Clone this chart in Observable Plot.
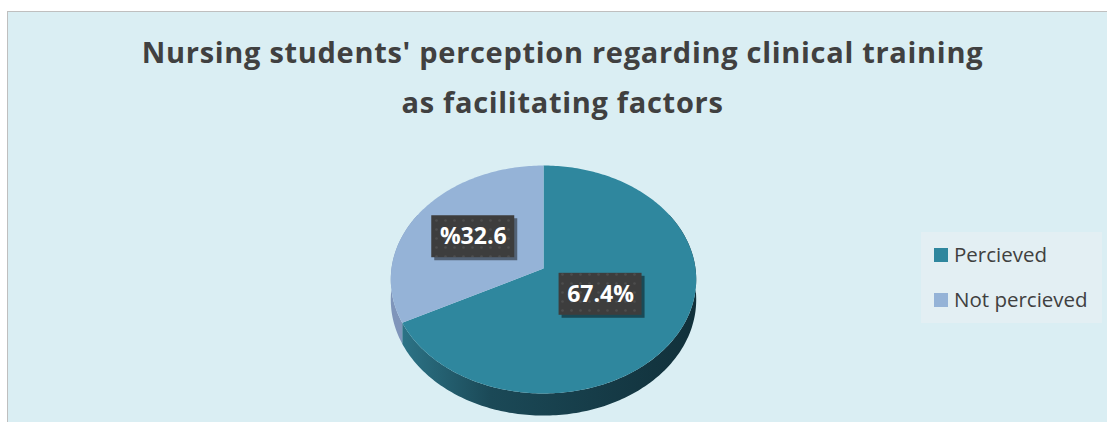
<!DOCTYPE html>
<html><head><meta charset="utf-8">
<script src="https://cdn.jsdelivr.net/npm/d3@7"></script>
<script src="https://cdn.jsdelivr.net/npm/@observablehq/plot@0.6"></script>
<style>
html,body{margin:0;padding:0;background:#fff;overflow:hidden;width:1107px;height:422px;}
#frame{position:absolute;left:7px;top:11px;width:1120px;height:430px;background:#daeef3;border:1px solid #bfbfbf;box-sizing:border-box;}
#title{position:absolute;left:0;top:27px;width:1125px;text-align:center;font-family:"Open Sans",sans-serif;font-weight:bold;font-size:29px;letter-spacing:0.7px;line-height:50px;color:#404040;}
#chart{position:absolute;left:0;top:0;}
#legend{position:absolute;left:921px;top:232px;width:181px;height:91px;background:#e3eff3;}
.item{position:absolute;left:0;height:30px;line-height:30px;font-family:"Open Sans",sans-serif;font-size:20.5px;color:#404040;white-space:nowrap;}
.sw{position:absolute;left:13px;top:9px;width:14px;height:14px;}
.lab{position:absolute;left:33px;top:0;}
</style></head>
<body>
<div id="frame"></div>
<div id="title">Nursing students' perception regarding clinical training<br>as facilitating factors</div>
<div id="chart"></div>
<div id="legend"></div>
<script>
const categories = ["Percieved", "Not percieved"];
const values = [67.4, 32.6];
const labels = ["67.4%", "%32.6"];
const colors = ["#2f879e", "#95b3d7"];
const sideColors = ["url(#sideTeal)", "#7f95ba"];

// projection of the tilted 3D pie (perspective factor K, thickness DEPTH in unit radii)
const K = 0.0965, DEPTH = 0.177;
const xRange = [391, 695], yRange = [380.9, 155.1];
function proj(phiDeg, r = 1, drop = 0) {
  const p = phiDeg * Math.PI / 180;
  const u = r * Math.sin(p), v = r * Math.cos(p);
  const d = 1 + K * v;
  return {x: u / d, y: (v - drop) / d};
}
function arc(a, b, r, drop) {
  const n = Math.max(2, Math.ceil(Math.abs(b - a)));
  return d3.range(n + 1).map(i => proj(a + (b - a) * i / n, r, drop));
}

const total = d3.sum(values);
let acc = 0;
const slices = categories.map((c, i) => {
  const start = acc / total * 360; acc += values[i];
  const end = acc / total * 360;
  return {cat: c, i, start, end};
});

// top faces
const topData = slices.flatMap(s => [{x: 0, y: 0}, ...arc(s.start, s.end, 1, 0)].map(p => ({...p, cat: s.cat})));
// visible rim (sides)
const sideMarks = slices.map(s => {
  const a = Math.max(s.start, 60), b = Math.min(s.end, 300);
  if (b <= a) return null;
  const pts = [...arc(a, b, 1, 0), ...arc(b, a, 1, DEPTH)];
  return Plot.line(pts, {x: "x", y: "y", fill: sideColors[s.i], stroke: "none"});
}).filter(Boolean);
// shadow silhouette
const shadowPts = [...arc(300, 420, 1.02, 0), ...arc(60, 300, 1.02, DEPTH + 0.08)];

// labels
const pxX = (xRange[1] - xRange[0]) / 2, pxY = (yRange[0] - yRange[1]) / 2;
const labelData = slices.map(s => {
  const half = (s.end - s.start) / 2 * Math.PI / 180;
  const rc = Math.max(2 / 3 * Math.sin(half) / half, 0.43);
  const p = proj((s.start + s.end) / 2, rc, 0);
  return {x: p.x, y: p.y, text: labels[s.i],
    x1: p.x - 41.5 / pxX, x2: p.x + 41.5 / pxX, y1: p.y - 21 / pxY, y2: p.y + 21 / pxY};
});

const svg = Plot.plot({
  width: 1107, height: 422, margin: 0,
  x: {domain: [-1, 1], range: xRange, axis: null},
  y: {domain: [-1, 1], range: yRange, axis: null},
  color: {domain: categories, range: colors},
  style: {background: "transparent", overflow: "visible"},
  marks: [
    Plot.line(shadowPts, {x: "x", y: "y", fill: "#7f959e", fillOpacity: 0.55, stroke: "none", dy: 3, ariaLabel: "shadow"}),
    ...sideMarks,
    Plot.line(topData, {x: "x", y: "y", z: "cat", fill: "cat", stroke: "none"}),
    Plot.rect(labelData, {x1: "x1", x2: "x2", y1: "y1", y2: "y2", fill: "#000", fillOpacity: 0.45, dx: 3, dy: 3, ariaLabel: "boxshadow"}),
    Plot.rect(labelData, {x1: "x1", x2: "x2", y1: "y1", y2: "y2", fill: "url(#dots)"}),
    Plot.text(labelData, {x: "x", y: "y", text: "text", fill: "white", fontSize: 23, fontWeight: "bold", fontFamily: "Open Sans"})
  ]
});

const defs = d3.select(svg).insert("defs", ":first-child");
const g = defs.append("linearGradient").attr("id", "sideTeal").attr("x1", 0).attr("x2", 1).attr("y1", 0).attr("y2", 0);
g.append("stop").attr("offset", "0").attr("stop-color", "#2c7386");
g.append("stop").attr("offset", "0.3").attr("stop-color", "#1b4957");
g.append("stop").attr("offset", "1").attr("stop-color", "#11303a");
const pat = defs.append("pattern").attr("id", "dots").attr("width", 9).attr("height", 9).attr("patternUnits", "userSpaceOnUse");
pat.append("rect").attr("width", 9).attr("height", 9).attr("fill", "#3d3d3d");
pat.append("circle").attr("cx", 4.5).attr("cy", 4.5).attr("r", 1.3).attr("fill", "#4d4d4d");
defs.append("filter").attr("id", "blur8").attr("x", "-20%").attr("y", "-20%").attr("width", "140%").attr("height", "140%")
  .append("feGaussianBlur").attr("stdDeviation", 6);
defs.append("filter").attr("id", "blur2").attr("x", "-20%").attr("y", "-20%").attr("width", "140%").attr("height", "140%")
  .append("feGaussianBlur").attr("stdDeviation", 2.5);
d3.select(svg).select('g[aria-label="shadow"]').attr("filter", "url(#blur8)");
d3.select(svg).select('g[aria-label="boxshadow"]').attr("filter", "url(#blur2)");

document.getElementById("chart").appendChild(svg);

const legend = d3.select("#legend");
categories.forEach((c, i) => {
  const it = legend.append("div").attr("class", "item").style("top", (7 + 45 * i) + "px").style("width", "181px");
  it.append("div").attr("class", "sw").style("background", colors[i]);
  it.append("div").attr("class", "lab").text(c);
});
</script>
</body></html>
